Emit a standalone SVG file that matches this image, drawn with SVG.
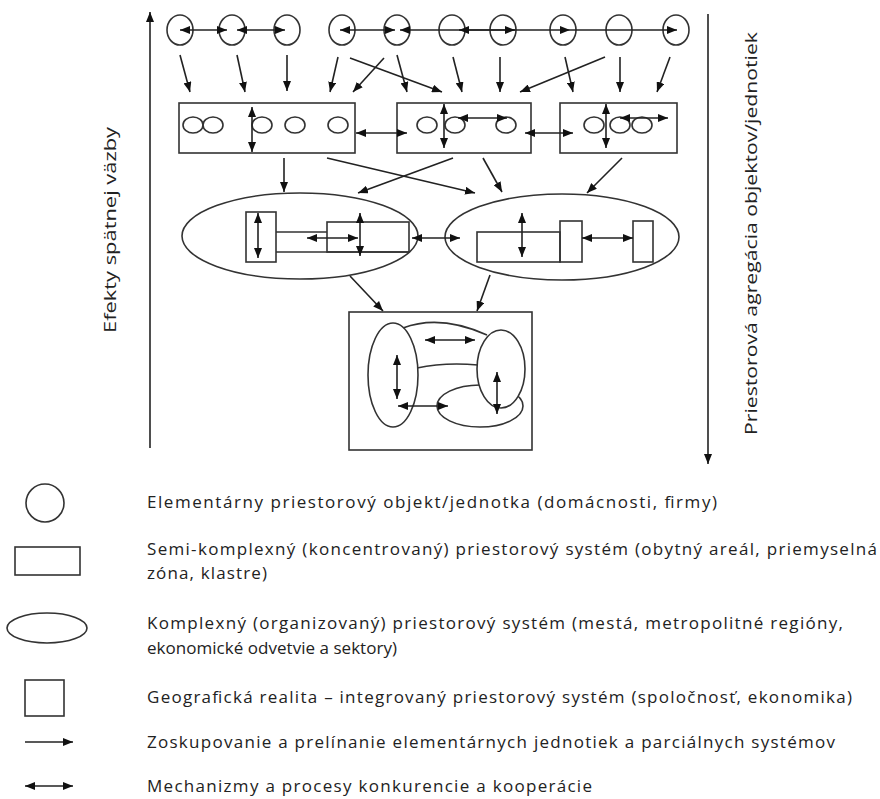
<svg xmlns="http://www.w3.org/2000/svg" width="880" height="799" viewBox="0 0 880 799">
<style>
.s{fill:none;stroke:#333;stroke-width:1.6}
.w{fill:#fff;stroke:#333;stroke-width:1.6}
.c{stroke:#222;stroke-width:1.6;fill:none}
.a{marker-end:url(#ah)}
.d{marker-start:url(#ah);marker-end:url(#ah)}
.t{font-family:"Open Sans","Liberation Sans",sans-serif;font-size:17px;fill:#222}
</style>
<defs>
<marker id="ah" viewBox="0 0 10 8" refX="10" refY="4" markerWidth="10" markerHeight="8" markerUnits="userSpaceOnUse" orient="auto-start-reverse"><path d="M0,0L10,4L0,8z" fill="#111"/></marker>
</defs>
<rect width="880" height="799" fill="#fff"/>

<g id="top-units">
<ellipse class="s" cx="180" cy="30" rx="13" ry="15"/>
<ellipse class="s" cx="232" cy="30" rx="13" ry="15"/>
<ellipse class="s" cx="287" cy="30" rx="13" ry="15"/>
<ellipse class="s" cx="342" cy="30" rx="13" ry="15"/>
<ellipse class="s" cx="397" cy="30" rx="13" ry="15"/>
<ellipse class="s" cx="452" cy="30" rx="13" ry="15"/>
<ellipse class="s" cx="503" cy="30" rx="13" ry="15"/>
<ellipse class="s" cx="563" cy="30" rx="13" ry="15"/>
<ellipse class="s" cx="619" cy="30" rx="13" ry="15"/>
<ellipse class="s" cx="676" cy="30" rx="13" ry="15"/>
</g>

<g id="semi-systems">
<rect class="s" x="179" y="103" width="176" height="50"/>
<ellipse class="s" cx="193" cy="125" rx="10" ry="8"/>
<ellipse class="s" cx="213" cy="125" rx="10" ry="8"/>
<ellipse class="s" cx="262" cy="125" rx="10" ry="8"/>
<ellipse class="s" cx="295" cy="125" rx="10" ry="8"/>
<ellipse class="s" cx="338" cy="125" rx="10" ry="8"/>
<rect class="s" x="397" y="103" width="134" height="50"/>
<ellipse class="s" cx="427" cy="125" rx="10" ry="8"/>
<ellipse class="s" cx="455" cy="125" rx="10" ry="8"/>
<ellipse class="s" cx="506" cy="125" rx="10" ry="8"/>
<rect class="s" x="560" y="103" width="117" height="50"/>
<ellipse class="s" cx="594" cy="125" rx="10" ry="8"/>
<ellipse class="s" cx="620" cy="125" rx="10" ry="8"/>
<ellipse class="s" cx="642" cy="125" rx="10" ry="8"/>
</g>

<g id="complex-1">
<ellipse class="s" cx="300" cy="236" rx="118" ry="43"/>
<rect class="s" x="246" y="212" width="30" height="50"/>
<path class="s" d="M276,232H327M276,252H409"/>
<rect class="s" x="327" y="222" width="82" height="30"/>
</g>

<g id="complex-2">
<ellipse class="s" cx="562" cy="237" rx="117" ry="43"/>
<rect class="s" x="477" y="232" width="83" height="30"/>
<rect class="s" x="560" y="221" width="22" height="41"/>
<rect class="s" x="633" y="221" width="20" height="41"/>
</g>

<g id="reality">
<rect class="s" x="349" y="312" width="183" height="138"/>
<ellipse class="w" cx="480" cy="406" rx="43" ry="21"/>
<path class="s" d="M403,328Q440,314 487,335M417,368Q445,362 478,365"/>
<ellipse class="w" cx="501" cy="369" rx="24" ry="39"/>
<ellipse class="w" cx="393" cy="375" rx="25" ry="52"/>
</g>

<g id="connectors">
<line class="c d" x1="180" y1="30" x2="227" y2="30"/>
<line class="c d" x1="237" y1="30" x2="285" y2="30"/>
<line class="c d" x1="340" y1="30" x2="395" y2="30"/>
<line class="c d" x1="400" y1="30" x2="570" y2="30"/>
<line class="c d" x1="459" y1="30" x2="515" y2="30"/>
<line class="c a" x1="570" y1="30" x2="677" y2="30"/>
<line class="c a" x1="180" y1="55" x2="190" y2="92"/>
<line class="c a" x1="237" y1="55" x2="245" y2="92"/>
<line class="c a" x1="287" y1="55" x2="287" y2="91"/>
<line class="c a" x1="338" y1="57" x2="330" y2="92"/>
<line class="c a" x1="384" y1="58" x2="353" y2="92"/>
<line class="c a" x1="350" y1="58" x2="442" y2="92"/>
<line class="c a" x1="397" y1="55" x2="407" y2="92"/>
<line class="c a" x1="453" y1="57" x2="462" y2="92"/>
<line class="c a" x1="500" y1="57" x2="500" y2="92"/>
<line class="c a" x1="605" y1="57" x2="520" y2="92"/>
<line class="c a" x1="565" y1="57" x2="573" y2="92"/>
<line class="c a" x1="620" y1="57" x2="620" y2="92"/>
<line class="c a" x1="670" y1="57" x2="657" y2="92"/>
<line class="c d" x1="252" y1="107" x2="252" y2="152"/>
<line class="c d" x1="444" y1="104" x2="444" y2="148"/>
<line class="c d" x1="606" y1="104" x2="606" y2="148"/>
<line class="c d" x1="458" y1="118" x2="507" y2="118"/>
<line class="c d" x1="620" y1="118" x2="668" y2="118"/>
<line class="c d" x1="356" y1="133" x2="407" y2="133"/>
<line class="c d" x1="525" y1="133" x2="573" y2="133"/>
<line class="c a" x1="284" y1="158" x2="284" y2="192"/>
<line class="c a" x1="327" y1="158" x2="475" y2="193"/>
<line class="c a" x1="453" y1="158" x2="358" y2="193"/>
<line class="c a" x1="483" y1="158" x2="502" y2="192"/>
<line class="c a" x1="622" y1="158" x2="587" y2="193"/>
<line class="c d" x1="258" y1="213" x2="258" y2="258"/>
<line class="c d" x1="307" y1="238" x2="358" y2="238"/>
<line class="c d" x1="360" y1="213" x2="360" y2="256"/>
<line class="c d" x1="412" y1="238" x2="460" y2="238"/>
<line class="c d" x1="522" y1="213" x2="522" y2="257"/>
<line class="c d" x1="582" y1="238" x2="633" y2="238"/>
<line class="c a" x1="350" y1="276" x2="383" y2="311"/>
<line class="c a" x1="490" y1="275" x2="477" y2="311"/>
<line class="c d" x1="425" y1="340" x2="475" y2="340"/>
<line class="c d" x1="397" y1="355" x2="397" y2="399"/>
<line class="c d" x1="497" y1="372" x2="497" y2="414"/>
<line class="c d" x1="398" y1="406" x2="448" y2="406"/>
<line class="c a" x1="150" y1="448" x2="150" y2="12"/>
<line class="c a" x1="708" y1="14" x2="708" y2="464"/>
</g>

<g id="axis-labels">
<text class="t" font-size="18" transform="translate(116,333) rotate(-90)" textLength="206" lengthAdjust="spacingAndGlyphs">Efekty spätnej väzby</text>
<text class="t" font-size="18" transform="translate(757,435) rotate(-90)" textLength="403" lengthAdjust="spacingAndGlyphs">Priestorová agregácia objektov/jednotiek</text>
</g>

<g id="legend">
<circle class="s" cx="45" cy="503" r="19" stroke-width="1.2"/>
<rect class="s" x="15" y="547" width="65" height="28" stroke-width="1.2"/>
<ellipse class="s" cx="47" cy="628" rx="40" ry="15" stroke-width="1.2"/>
<rect class="s" x="25" y="680" width="39" height="36" stroke-width="1.2"/>
<line class="c a" x1="25" y1="742" x2="73" y2="742"/>
<line class="c d" x1="25" y1="786" x2="73" y2="786"/>
<text class="t" x="147" y="508" textLength="570" lengthAdjust="spacing">Elementárny priestorový objekt/jednotka (domácnosti, firmy)</text>
<text class="t" x="147" y="555" textLength="730" lengthAdjust="spacing">Semi-komplexný (koncentrovaný) priestorový systém (obytný areál, priemyselná</text>
<text class="t" x="147" y="579" textLength="120" lengthAdjust="spacing">zóna, klastre)</text>
<text class="t" x="147" y="629" textLength="696" lengthAdjust="spacing">Komplexný (organizovaný) priestorový systém (mestá, metropolitné regióny,</text>
<text class="t" x="147" y="654" textLength="250" lengthAdjust="spacing">ekonomické odvetvie a sektory)</text>
<text class="t" x="147" y="703" textLength="705" lengthAdjust="spacing">Geografická realita – integrovaný priestorový systém (spoločnosť, ekonomika)</text>
<text class="t" x="147" y="748" textLength="688" lengthAdjust="spacing">Zoskupovanie a prelínanie elementárnych jednotiek a parciálnych systémov</text>
<text class="t" x="147" y="792" textLength="445" lengthAdjust="spacing">Mechanizmy a procesy konkurencie a kooperácie</text>
</g>
</svg>
